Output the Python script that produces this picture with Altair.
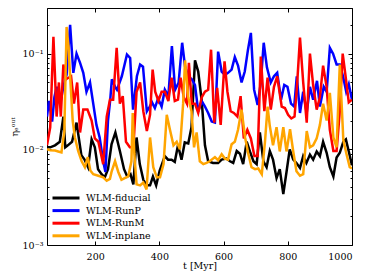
import altair as alt
import pandas as pd

series_names = ["WLM-fiducial", "WLM-RunP", "WLM-RunM", "WLM-inplane"]
series_colors = ["#000000", "#0000ff", "#ff0000", "#ffa500"]

t_fid = [50, 60, 75, 90, 101, 107, 115, 128, 142, 157, 167, 178, 189, 199, 209, 220, 230, 240, 251, 263,
         277, 290, 300, 310, 319, 329, 339, 350, 361, 371, 380, 390, 401, 417, 427, 438, 448, 458, 469, 479,
         490, 500, 511, 521, 532, 542, 552, 567, 583, 594, 609, 620, 630, 641, 651, 661, 672, 682, 693, 703,
         713, 724, 734, 744, 754, 765, 775, 786, 796, 806, 817, 827, 838, 848, 858, 869, 879, 890, 900, 910,
         921, 931, 942, 952, 962, 973, 981, 990, 1000]
v_fid = [0.0105, 0.0105, 0.011, 0.012, 0.022, 0.0105, 0.011, 0.012, 0.019, 0.0087,
         0.0078, 0.0065, 0.0127, 0.0105, 0.0062, 0.0055, 0.0051, 0.0062, 0.0113, 0.015,
         0.0096, 0.0062, 0.0052, 0.0055, 0.0043, 0.0133, 0.007, 0.0048, 0.0042, 0.0042,
         0.0052, 0.0042, 0.006, 0.0085, 0.0078, 0.0078, 0.0074, 0.011, 0.0078, 0.0118,
         0.0115, 0.017, 0.085, 0.065, 0.032, 0.011, 0.0075, 0.0072, 0.0072, 0.0078,
         0.008, 0.0075, 0.0072, 0.0096, 0.009, 0.007, 0.012, 0.0095, 0.0075, 0.007,
         0.015, 0.0075, 0.0065, 0.0096, 0.0078, 0.005, 0.0062, 0.0034, 0.0058, 0.010,
         0.0078, 0.0072, 0.0064, 0.0085, 0.0072, 0.0088, 0.0078, 0.0095, 0.0085, 0.012,
         0.0092, 0.0065, 0.0052, 0.0082, 0.0092, 0.012, 0.0127, 0.0095, 0.0068]

t_runp = [50, 56, 66, 73, 80, 91, 101, 111, 122, 132, 142, 153, 163, 173, 184, 194, 204, 214, 225, 232,
          240, 247, 252, 262, 268, 283, 299, 309, 318, 330, 340, 349, 361, 370, 377, 386, 396, 407, 417, 428,
          439, 449, 460, 471, 480, 490, 501, 511, 521, 532, 542, 552, 563, 573, 583, 594, 604, 614, 625, 635,
          645, 656, 666, 676, 685, 695, 706, 716, 725, 735, 747, 757, 767, 779, 789, 799, 810, 820, 828, 838,
          848, 859, 869, 879, 891, 900, 912, 921, 931, 941, 952, 962, 972, 982, 990, 1000]
v_runp = [0.022, 0.032, 0.0195, 0.035, 0.045, 0.03, 0.045, 0.06, 0.2, 0.063,
          0.1, 0.08, 0.063, 0.04, 0.05, 0.03, 0.018, 0.0133, 0.0075, 0.0058,
          0.02, 0.033, 0.054, 0.045, 0.042, 0.058, 0.098, 0.09, 0.026, 0.058,
          0.077, 0.073, 0.025, 0.028, 0.031, 0.027, 0.034, 0.028, 0.042, 0.036,
          0.12, 0.042, 0.05, 0.13, 0.073, 0.058, 0.054, 0.047, 0.025, 0.032,
          0.028, 0.024, 0.0195, 0.019, 0.105, 0.065, 0.06, 0.063, 0.068, 0.092,
          0.075, 0.05, 0.065, 0.11, 0.165, 0.042, 0.029, 0.05, 0.13, 0.072,
          0.05, 0.058, 0.063, 0.033, 0.047, 0.045, 0.03, 0.028, 0.058, 0.024,
          0.04, 0.024, 0.045, 0.033, 0.052, 0.028, 0.045, 0.04, 0.115, 0.1,
          0.077, 0.077, 0.058, 0.04, 0.048, 0.033]

t_runm = [50, 60, 70, 80, 87, 93, 101, 109, 117, 125, 134, 144, 153, 163, 176, 189, 199, 210, 225, 236,
          246, 256, 267, 277, 286, 296, 308, 319, 329, 340, 350, 361, 371, 379, 387, 397, 407, 417, 428, 438,
          448, 458, 466, 476, 486, 492, 501, 511, 521, 532, 542, 552, 561, 571, 580, 591, 603, 612, 622, 632,
          643, 653, 663, 674, 685, 696, 706, 716, 727, 737, 747, 757, 767, 781, 791, 801, 811, 821, 828, 838,
          848, 859, 869, 879, 890, 900, 910, 921, 931, 942, 952, 962, 971, 980, 990, 1000]
v_runm = [0.011, 0.017, 0.15, 0.022, 0.05, 0.022, 0.077, 0.054, 0.056, 0.058,
          0.03, 0.05, 0.015, 0.026, 0.026, 0.02, 0.013, 0.012, 0.007, 0.022,
          0.033, 0.033, 0.115, 0.03, 0.036, 0.012, 0.0105, 0.0105, 0.04, 0.05,
          0.025, 0.0155, 0.023, 0.068, 0.04, 0.032, 0.04, 0.04, 0.032, 0.056,
          0.032, 0.033, 0.056, 0.035, 0.03, 0.08, 0.03, 0.03, 0.024, 0.035,
          0.04, 0.042, 0.11, 0.019, 0.044, 0.018, 0.083, 0.04, 0.025, 0.024,
          0.022, 0.036, 0.013, 0.016, 0.013, 0.0085, 0.0085, 0.093, 0.025, 0.056,
          0.026, 0.045, 0.058, 0.028, 0.027, 0.023, 0.021, 0.022, 0.042, 0.147,
          0.05, 0.019, 0.1, 0.047, 0.026, 0.035, 0.075, 0.045, 0.016, 0.0096,
          0.0096, 0.025, 0.1, 0.058, 0.031, 0.033]

t_inpl = [50, 60, 75, 85, 95, 104, 111, 117, 122, 130, 137, 147, 158, 168, 177, 185, 194, 210, 225, 236,
          246, 251, 262, 272, 282, 292, 303, 313, 317, 322, 329, 340, 350, 360, 371, 381, 392, 402, 413, 423,
          433, 444, 454, 464, 474, 480, 490, 500, 508, 516, 526, 537, 547, 557, 573, 583, 594, 604, 614, 625,
          635, 645, 656, 667, 677, 687, 698, 708, 719, 729, 737, 744, 754, 765, 775, 786, 796, 807, 817, 827,
          838, 848, 859, 869, 879, 890, 900, 910, 921, 931, 942, 952, 962, 973, 983, 993, 1000]
v_inpl = [0.01, 0.0098, 0.0097, 0.0095, 0.0093, 0.0155, 0.19, 0.12, 0.058, 0.02,
          0.0133, 0.0096, 0.0075, 0.0065, 0.0083, 0.006, 0.0055, 0.0053, 0.0051, 0.0047,
          0.0049, 0.0058, 0.0075, 0.0058, 0.0048, 0.005, 0.0052, 0.0075, 0.024, 0.009,
          0.0043, 0.0042, 0.0045, 0.0038, 0.0133, 0.0065, 0.0051, 0.0051, 0.007, 0.023,
          0.016, 0.011, 0.012, 0.01, 0.03, 0.085, 0.035, 0.025, 0.0105, 0.015,
          0.0075, 0.007, 0.0072, 0.0075, 0.0083, 0.0077, 0.0089, 0.008, 0.0078, 0.0113,
          0.012, 0.016, 0.026, 0.0133, 0.009, 0.0065, 0.0062, 0.0063, 0.0055, 0.012,
          0.028, 0.0175, 0.011, 0.017, 0.0095, 0.017, 0.0095, 0.0162, 0.0095, 0.0059,
          0.0053, 0.0055, 0.0155, 0.0105, 0.011, 0.013, 0.018, 0.03, 0.02, 0.039,
          0.0133, 0.0105, 0.077, 0.0125, 0.0089, 0.0065, 0.0063]

x_ticks = [200, 400, 600, 800, 1000]
y_major = [0.001, 0.01, 0.1]
y_minor = [0.002, 0.003, 0.004, 0.005, 0.006, 0.007, 0.008, 0.009,
           0.02, 0.03, 0.04, 0.05, 0.06, 0.07, 0.08, 0.09, 0.2, 0.3]

rows = []
for name, ts, vs in zip(series_names, [t_fid, t_runp, t_runm, t_inpl], [v_fid, v_runp, v_runm, v_inpl]):
    assert len(ts) == len(vs), name
    for t, v in zip(ts, vs):
        rows.append({"series": name, "t": t, "v": v})
df = pd.DataFrame(rows)

W, H = 305, 237
FONT = "DejaVu Serif"
FS = 9.5

xscale = alt.Scale(domain=[50, 1000], nice=False, zero=False)
yscale = alt.Scale(type="log", domain=[0.001, 0.3], nice=False)

ylab = "datum.value < 0.005 ? '10⁻³' : (datum.value < 0.05 ? '10⁻²' : '10⁻¹')"

lines = alt.Chart(df).mark_line(strokeWidth=2.5, clip=True).encode(
    x=alt.X("t:Q", scale=xscale,
            axis=alt.Axis(values=x_ticks, ticks=False, domain=False, grid=False, format="d",
                          labelPadding=6, title="t [Myr]", titlePadding=0,
                          labelFont=FONT, labelFontSize=FS, titleFont=FONT, titleFontSize=FS,
                          titleFontWeight="normal", labelColor="black", titleColor="black")),
    y=alt.Y("v:Q", scale=yscale,
            axis=alt.Axis(values=y_major, ticks=False, domain=False, grid=False, labelExpr=ylab,
                          labelPadding=4, title="ηₑᵒᵘᵗ", titlePadding=3,
                          labelFont=FONT, labelFontSize=FS, titleFont=FONT, titleFontSize=FS,
                          titleFontWeight="normal", labelColor="black", titleColor="black")),
    color=alt.Color("series:N", sort=series_names,
                    scale=alt.Scale(domain=series_names, range=series_colors),
                    legend=alt.Legend(title=None, orient="none", legendX=13, legendY=184,
                                      symbolType="M-3,0H3", symbolSize=81, symbolStrokeWidth=3,
                                      labelFont=FONT, labelFontSize=FS, labelColor="black",
                                      labelOffset=14, padding=0, rowPadding=0.6)),
)


def ax(orient, offset, values, size):
    return alt.Axis(orient=orient, offset=offset, values=values, tickSize=size, tickWidth=1,
                    tickColor="black", labels=False, domain=False, grid=False, title=None)


def tick_layer(xaxis, yaxis):
    return alt.Chart(df).mark_point(opacity=0).encode(
        x=alt.X("t:Q", scale=xscale, axis=xaxis),
        y=alt.Y("v:Q", scale=yscale, axis=yaxis),
    )


t1 = tick_layer(ax("top", -H, x_ticks, 4), ax("right", -W, y_major, 4))
t2 = tick_layer(ax("bottom", -H, x_ticks, 4), ax("left", -W, y_major, 4))
t3 = tick_layer(None, ax("right", -W, y_minor, 2))
t4 = tick_layer(None, ax("left", -W, y_minor, 2))

chart = alt.layer(lines, t1, t2, t3, t4).resolve_axis(
    x="independent", y="independent"
).properties(
    width=W, height=H, autosize="none",
    padding={"left": 39, "top": 0, "right": 14, "bottom": 27},
).configure_view(stroke="black", strokeWidth=1)

chart.save("out.html", embed_options={"renderer": "svg", "actions": False})
